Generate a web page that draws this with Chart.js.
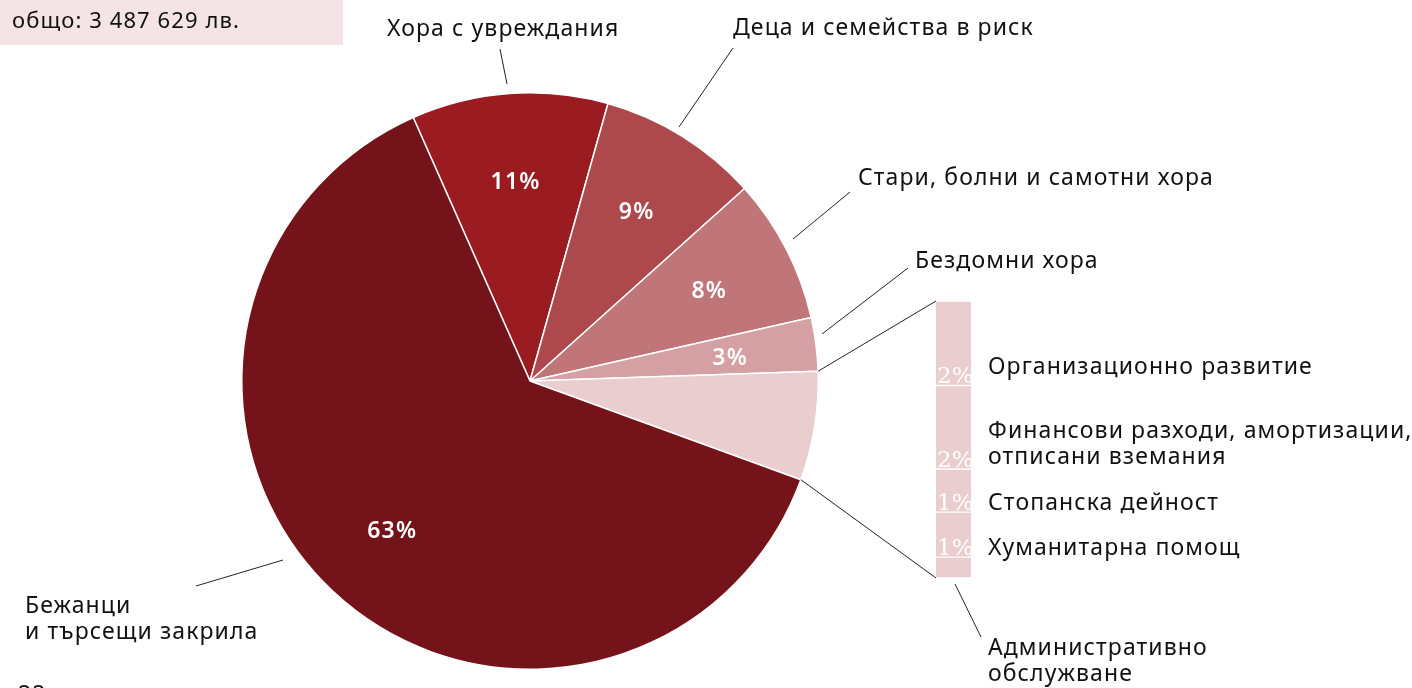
<!DOCTYPE html>
<html lang="bg">
<head>
    <meta charset="UTF-8">
    <script src="https://cdn.jsdelivr.net/npm/chart.js"></script>
    <style>
        body { margin: 0; background: #fff; overflow: hidden; }
        #wrap { position: relative; width: 1412px; height: 688px; }
        #pieCanvas { position: absolute; left: 0; top: 0; }
        #barBox { position: absolute; left: 936px; top: 301px; width: 35px; height: 277px; }
    </style>
    <title>pie of bar</title>
</head>
<body>
<div id="wrap">
    <canvas id="pieCanvas" width="1412" height="688" lang="bg"></canvas>
    <div id="barBox"><canvas id="barCanvas" lang="bg"></canvas></div>
</div>
<script>
    // данни (в проценти от общата сума)
    let categories = ['Хора с увреждания', 'Деца и семейства в риск', 'Стари, болни и самотни хора',
                      'Бездомни хора', 'Административно обслужване', 'Бежанци и търсещи закрила'];
    let shares = [11.0, 9.0, 8.1, 3.0, 6.1, 62.8];
    let colors = ['#9a1b20', '#ad494d', '#c07579', '#d5a0a3', '#eacdce', '#74141a'];

    // разбивка на административното обслужване (отдолу нагоре)
    let adminParts = ['Друго', 'Хуманитарна помощ', 'Стопанска дейност',
                      'Финансови разходи, амортизации, отписани вземания', 'Организационно развитие'];
    let adminShares = [0.46, 0.99, 0.95, 1.84, 1.86];

    let totalLabel = 'общо: 3 487 629 лв.';

    const FONT = '"Noto Sans", sans-serif';
    const BAR = {left: 936, top: 301, right: 971, bottom: 578};

    // етикети с водещи линии
    let notes = [
        {lines: ['Хора с увреждания'], x: 387, y: 36, line: [500, 49, 507, 84]},
        {lines: ['Деца и семейства в риск'], x: 733, y: 35, line: [733, 48, 679, 127]},
        {lines: ['Стари, болни и самотни хора'], x: 858, y: 185, line: [850, 192, 793, 239]},
        {lines: ['Бездомни хора'], x: 915, y: 268, line: [908, 268, 822, 334]},
        {lines: ['Организационно развитие'], x: 988, y: 374},
        {lines: ['Финансови разходи, амортизации,', 'отписани вземания'], x: 988, y: 438},
        {lines: ['Стопанска дейност'], x: 988, y: 510},
        {lines: ['Хуманитарна помощ'], x: 988, y: 555},
        {lines: ['Административно', 'обслужване'], x: 988, y: 655, line: [955, 584, 981, 637]},
        {lines: ['Бежанци', 'и търсещи закрила'], x: 25, y: 613, line: [196, 586, 283, 560]}
    ];

    function setLang(ctx) {
        try { ctx.lang = 'bg'; } catch (e) {}
    }

    let pieExtras = {
        id: 'pieExtras',
        beforeDraw(chart) {
            let ctx = chart.ctx;
            ctx.save();
            setLang(ctx);
            ctx.fillStyle = '#f5e4e5';
            ctx.fillRect(0, 0, 343, 45);
            ctx.fillStyle = '#111';
            ctx.font = '22px ' + FONT;
            ctx.letterSpacing = '1.1px';
            ctx.textBaseline = 'alphabetic';
            ctx.fillText(totalLabel, 12, 28);
            ctx.restore();
        },
        afterDatasetsDraw(chart) {
            let ctx = chart.ctx;
            let arcs = chart.getDatasetMeta(0).data;
            ctx.save();
            setLang(ctx);
            // проценти в резенците
            ctx.fillStyle = '#fff';
            ctx.font = '600 23px ' + FONT;
            ctx.letterSpacing = '1.2px';
            ctx.textAlign = 'center';
            ctx.textBaseline = 'middle';
            arcs.forEach(function(arc, i){
                if (i === 4) return;
                let mid = (arc.startAngle + arc.endAngle) / 2;
                let r = arc.outerRadius * 0.7;
                ctx.fillText(Math.round(shares[i]) + '%', arc.x + Math.cos(mid) * r, arc.y + Math.sin(mid) * r + 3);
            });
            // връзки към стълбчето
            let a = arcs[4];
            ctx.strokeStyle = '#222';
            ctx.lineWidth = 1;
            ctx.beginPath();
            ctx.moveTo(a.x + Math.cos(a.startAngle) * a.outerRadius, a.y + Math.sin(a.startAngle) * a.outerRadius);
            ctx.lineTo(BAR.left, BAR.top);
            ctx.moveTo(a.x + Math.cos(a.endAngle) * a.outerRadius, a.y + Math.sin(a.endAngle) * a.outerRadius);
            ctx.lineTo(BAR.left, BAR.bottom);
            ctx.stroke();
            // надписи
            ctx.fillStyle = '#111';
            ctx.font = '23px ' + FONT;
            ctx.letterSpacing = '1.1px';
            ctx.textAlign = 'left';
            ctx.textBaseline = 'alphabetic';
            notes.forEach(function(n){
                n.lines.forEach(function(t, k){
                    ctx.fillText(t, n.x, n.y + k * 26);
                });
                if (n.line) {
                    ctx.beginPath();
                    ctx.moveTo(n.line[0], n.line[1]);
                    ctx.lineTo(n.line[2], n.line[3]);
                    ctx.stroke();
                }
            });
            ctx.fillText('22', 18, 702);
            ctx.restore();
        }
    };

    new Chart(document.getElementById('pieCanvas'), {
        type: 'pie',
        data: {
            labels: categories,
            datasets: [{
                data: shares,
                backgroundColor: colors,
                borderColor: '#fff',
                borderWidth: 1.5
            }]
        },
        options: {
            responsive: false,
            animation: false,
            rotation: -23.9,
            layout: {padding: {left: 241, top: 92, right: 593, bottom: 18}},
            plugins: {legend: {display: false}, tooltip: {enabled: false}}
        },
        plugins: [pieExtras]
    });

    let barLabels = {
        id: 'barLabels',
        afterDatasetsDraw(chart) {
            let ctx = chart.ctx;
            ctx.save();
            ctx.fillStyle = '#fff';
            ctx.font = '23px "DejaVu Serif", serif';
            ctx.textAlign = 'left';
            ctx.textBaseline = 'alphabetic';
            chart.data.datasets.forEach(function(ds, i){
                let v = Math.round(ds.data[0]);
                if (v < 1) return;
                let bar = chart.getDatasetMeta(i).data[0];
                ctx.fillText(v + '%', bar.x - bar.width / 2 + 1, bar.base - 2);
            });
            ctx.restore();
        }
    };

    new Chart(document.getElementById('barCanvas'), {
        type: 'bar',
        data: {
            labels: [''],
            datasets: adminShares.map(function(v, i){
                return {
                    label: adminParts[i],
                    data: [v],
                    backgroundColor: '#eacdce',
                    borderColor: '#fff',
                    borderWidth: {top: 1, bottom: 1, left: 0, right: 0},
                    borderSkipped: false,
                    barPercentage: 1,
                    categoryPercentage: 1
                };
            })
        },
        options: {
            responsive: true,
            maintainAspectRatio: false,
            animation: false,
            layout: {padding: 0},
            scales: {
                x: {display: false, stacked: true},
                y: {display: false, stacked: true, min: 0, max: 6.1}
            },
            plugins: {legend: {display: false}, tooltip: {enabled: false}}
        },
        plugins: [barLabels]
    });
</script>
</body>
</html>
